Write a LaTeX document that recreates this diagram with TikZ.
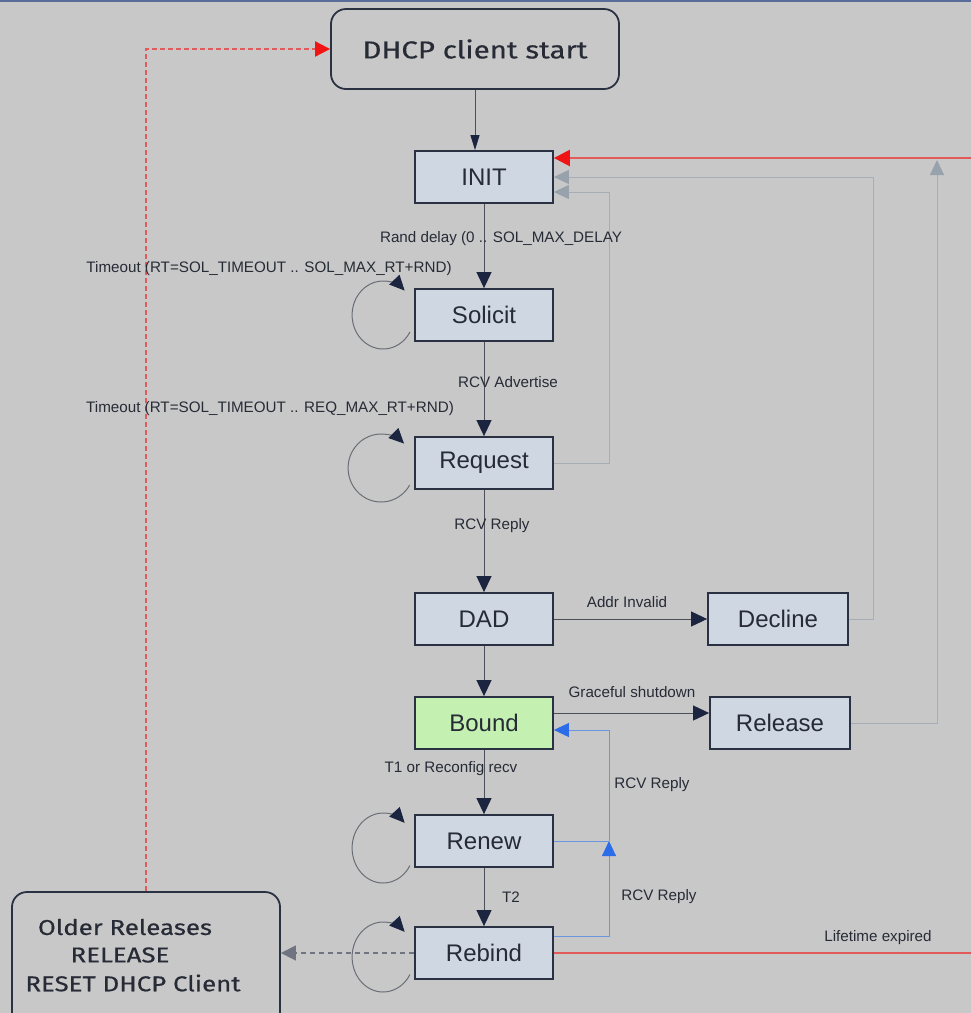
\documentclass[tikz,border=0pt]{standalone}
\usepackage{fontspec}
\setmainfont{Liberation Sans}
\newfontfamily\roundfont[FakeStretch=1.2,FakeBold=0.5]{Fira Sans}
\usetikzlibrary{arrows.meta,calc}

\definecolor{bgcol}{HTML}{C8C8C8}
\definecolor{topbar}{HTML}{5A6C9A}
\definecolor{boxline}{HTML}{2A3142}
\definecolor{statefill}{HTML}{CED7E2}
\definecolor{boundfill}{HTML}{C4F0B2}
\definecolor{textdark}{HTML}{262B36}
\definecolor{flowcol}{HTML}{4A4F5A}
\definecolor{navy}{HTML}{1C2540}
\definecolor{loopcol}{HTML}{6A6E76}
\definecolor{retcol}{HTML}{A6ADB5}
\definecolor{rettip}{HTML}{97A2AD}
\definecolor{redline}{HTML}{E25A5A}
\definecolor{redtip}{HTML}{F01414}
\definecolor{blueline}{HTML}{6A95E0}
\definecolor{bluetip}{HTML}{2B6DE8}
\definecolor{dashgray}{HTML}{6F7480}

\tikzset{
  state/.style={draw=boxline, line width=1.8pt, fill=statefill,
    minimum width=138pt, minimum height=52pt, inner sep=0pt,
    font=\fontsize{24}{28}\selectfont, text=textdark},
  roundbox/.style={draw=boxline, line width=1.8pt, rounded corners=15pt,
    inner sep=0pt, text=textdark},
  lbl/.style={font=\fontsize{15.2}{18}\selectfont, text=textdark, inner sep=0pt},
  roundtxt/.style={font=\roundfont\fontsize{21.5}{26}\selectfont, text=textdark, inner sep=0pt},
  flow/.style={draw=flowcol, line width=1pt, -{Triangle[length=16pt,width=15pt,fill=navy,color=navy]}},
  selfloop/.style={draw=loopcol, line width=1pt, -{Triangle[length=15pt,width=14pt,fill=navy,color=navy]}},
  backline/.style={draw=retcol, line width=1pt, -{Triangle[length=15pt,width=14pt,fill=rettip,color=rettip]}},
  redback/.style={draw=redline, line width=2.5pt, -{Triangle[length=16pt,width=16pt,fill=redtip,color=redtip]}},
  redlife/.style={draw=redline, line width=2.5pt},
  bluepath/.style={draw=blueline, line width=1pt},
  bluearrow/.style={draw=blueline, line width=1pt, -{Triangle[length=15pt,width=14pt,fill=bluetip,color=bluetip]}},
  resetdash/.style={draw=redline, line width=2pt, dash pattern=on 5pt off 3pt,
    -{Triangle[length=15pt,width=15pt,fill=redtip,color=redtip]}},
  olderdash/.style={draw=dashgray, line width=1.3pt, dash pattern=on 5pt off 4pt,
    -{Triangle[length=15pt,width=15pt,fill=dashgray,color=dashgray]}}
}

\begin{document}
\begin{tikzpicture}[x=1pt,y=-1pt]
  % canvas
  \fill[bgcol] (0,0) rectangle (971,1013);
  \useasboundingbox (0,0) rectangle (971,1013);
  \fill[topbar] (0,0) rectangle (971,2);

  % free ends on the right edge
  \coordinate (edgeTop) at (971,158);
  \coordinate (edgeLow) at (971,953);
  \coordinate (relTap) at (937,160);
  \coordinate (blueJoin) at (609,841);

  % states
  \node[roundbox, minimum width=288pt, minimum height=80pt] (start) at (475,49) {};
  \node[roundtxt, font=\roundfont\fontsize{24.5}{28}\selectfont] (startTxt) at (475,49) {DHCP client start};
  \node[state] (init)    at (484,177) {INIT};
  \node[state] (solicit) at (484,315) {Solicit};
  \node[state] (request) at (484,463) {Request};
  \node[state] (dad)     at (484,619) {DAD};
  \node[state, minimum width=140pt] (decline) at (778,619) {Decline};
  \node[state, fill=boundfill] (bound) at (484,723) {Bound};
  \node[state, minimum width=140pt] (release) at (780,723) {Release};
  \node[state] (renew)   at (484,841) {Renew};
  \node[state] (rebind)  at (484,953) {Rebind};

  \node[roundbox, minimum width=268pt, minimum height=150pt] (older) at (146,967) {};
  \node[roundtxt] (olderA) at (125,927) {Older Releases};
  \node[roundtxt] (olderB) at (120,955) {RELEASE};
  \node[roundtxt] (olderC) at (133,983) {RESET DHCP Client};

  % main chain
  \draw[flow, -{Triangle[length=15pt,width=9pt,fill=navy,color=navy]}] (start.south) -- (start.south |- init.north);
  \draw[flow] (init) -- (solicit);
  \draw[flow] (solicit) -- (request);
  \draw[flow] (request) -- (dad);
  \draw[flow] (dad) -- (bound);
  \draw[flow] (bound) -- (renew);
  \draw[flow] (renew) -- (rebind);
  \draw[flow] (dad) -- (decline);
  \draw[flow] ($(bound.east)+(0,-10)$) -- ($(release.west)+(0,-10)$);

  % retransmission loops
  \draw[selfloop] ([shift={(-31,0)}]solicit.west) ++(30:31 and 34) arc[start angle=30, end angle=314, x radius=31, y radius=34];
  \draw[selfloop] ([shift={(-33,5)}]request.west) ++(30:33 and 34) arc[start angle=30, end angle=314, x radius=33, y radius=34];
  \draw[selfloop] ([shift={(-31,7)}]renew.west) ++(30:31 and 35) arc[start angle=30, end angle=314, x radius=31, y radius=35];
  \draw[selfloop] ([shift={(-31,4)}]rebind.west) ++(30:31 and 35) arc[start angle=30, end angle=314, x radius=31, y radius=35];

  % returns to INIT
  \draw[backline] (request.east) -- ++(56,0) |- ($(init.east)+(0,15)$);
  \draw[backline] (decline.east) -- ++(25,0) |- (init.east);
  \draw[backline] (release.east) -| (relTap);
  \draw[redback] (edgeTop) -- (edgeTop -| init.east);
  \draw[redlife] (rebind.east) -- (rebind.east -| edgeLow);

  % replies back to Bound
  \draw[bluearrow] ($(rebind.east)+(0,-17)$) -| (blueJoin);
  \draw[bluepath] (renew.east) -- (blueJoin);
  \draw[bluearrow] (blueJoin) |- ($(bound.east)+(0,7)$);

  % reset paths
  \draw[olderdash] (rebind.west) -- (rebind.west -| older.east);
  \draw[resetdash] (older.north) |- (start.west);

  % transition labels
  \node[lbl] (lRand)   at (501,239) {Rand delay (0 .. SOL\_MAX\_DELAY};
  \node[lbl] (lTo1)    at (269,269) {Timeout (RT=SOL\_TIMEOUT .. SOL\_MAX\_RT+RND)};
  \node[lbl] (lAdv)    at (508,382) {RCV Advertise};
  \node[lbl] (lTo2)    at (270,409) {Timeout (RT=SOL\_TIMEOUT .. REQ\_MAX\_RT+RND)};
  \node[lbl] (lReply)  at (492,526) {RCV Reply};
  \node[lbl] (lAddr)   at (627,602) {Addr Invalid};
  \node[lbl] (lGrace)  at (632,692) {Graceful shutdown};
  \node[lbl] (lT1)     at (451,769) {T1 or Reconfig recv};
  \node[lbl] (lRep2)   at (652,785) {RCV Reply};
  \node[lbl] (lT2)     at (511,897) {T2};
  \node[lbl] (lRep3)   at (659,897) {RCV Reply};
  \node[lbl] (lLife)   at (878,938) {Lifetime expired};
\end{tikzpicture}
\end{document}
